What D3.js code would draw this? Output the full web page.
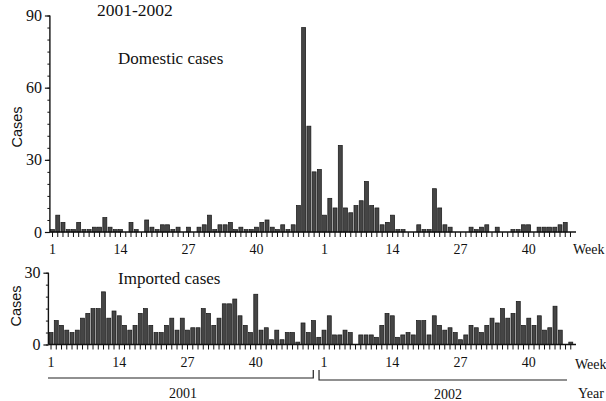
<!DOCTYPE html>
<html>
<head>
<meta charset="utf-8">
<script src="https://cdn.jsdelivr.net/npm/d3@7"></script>
<style>
  body { margin: 0; background: #fff; }
  text { font-family: "Liberation Serif", "Times New Roman", serif; fill: #111; }
</style>
</head>
<body>
<div id="chart-area"></div>
<script>
// weeks per year shown, and which week numbers get a label
var years = ["2001", "2002"];
var weekCount = [52, 48];
var labelWeeks = [1, 14, 27, 40];

// weekly case counts
var domestic2001 = [1, 7, 4, 1, 1, 4, 1, 1, 2, 2, 6, 2, 1, 1, 0, 4, 1, 0, 5, 2,
  1, 3, 3, 1, 2, 0, 2, 0, 2, 3, 7, 1, 3, 3, 4, 1, 2, 1, 1, 2,
  4, 5, 2, 1, 3, 1, 3, 11, 85, 44, 25, 26];
var domestic2002 = [7, 14, 10, 36, 10, 8, 11, 13, 21, 11, 10, 3, 4, 7, 1, 1, 0, 0, 3, 1,
  1, 18, 10, 3, 2, 0, 0, 0, 2, 1, 2, 3, 0, 2, 0, 0, 1, 1, 3, 3,
  0, 2, 2, 2, 2, 3, 4, 0];
var imported2001 = [5, 10, 8, 6, 5, 6, 11, 13, 15, 15, 22, 11, 14, 12, 8, 6, 8, 13, 15, 8,
  5, 5, 8, 11, 6, 11, 6, 7, 7, 15, 13, 8, 11, 17, 17, 19, 12, 8, 5, 21,
  6, 7, 2, 6, 2, 5, 5, 1, 9, 5, 10, 3];
var imported2002 = [6, 12, 4, 4, 6, 5, 0, 4, 4, 4, 3, 8, 13, 12, 3, 4, 5, 4, 10, 10,
  4, 12, 8, 6, 7, 5, 2, 4, 8, 7, 5, 8, 11, 9, 15, 11, 13, 18, 8, 11,
  8, 12, 6, 7, 16, 6, 0, 1];

var keys = [];
years.forEach(function (yr, i) {
  d3.range(1, weekCount[i] + 1).forEach(function (w) { keys.push(yr + "-" + w); });
});
function toRows(a, b) {
  return a.concat(b).map(function (v, i) { return { key: keys[i], value: v }; });
}
var domestic = toRows(domestic2001, domestic2002);
var imported = toRows(imported2001, imported2002);

var W = 606, H = 401;
var svg = d3.select("#chart-area").append("svg")
  .attr("width", W).attr("height", H);

function panel(opt) {
  var x = d3.scaleBand().domain(keys)
    .range(opt.xRange).paddingInner(0.24).paddingOuter(0.12);
  var y = d3.scaleLinear().domain([0, opt.max]).range(opt.yRange);
  var g = svg.append("g");

  g.selectAll("rect").data(opt.data).enter().append("rect")
    .attr("x", function (d) { return x(d.key); })
    .attr("width", x.bandwidth())
    .attr("y", function (d) { return y(d.value); })
    .attr("height", function (d) { return y(0) - y(d.value); })
    .attr("fill", "#454545")
    .attr("stroke", "#151515")
    .attr("stroke-width", 0.7);

  // x axis: a tick every week, labels for a few
  var xAxis = d3.axisBottom(x).tickSize(5).tickPadding(opt.xPad)
    .tickFormat(function (k) {
      var w = +k.split("-")[1];
      return labelWeeks.indexOf(w) >= 0 ? w : "";
    });
  var xg = g.append("g").attr("transform", "translate(0," + y(0) + ")").call(xAxis);
  xg.select(".domain").remove();
  xg.selectAll("line").attr("stroke", "#111").attr("stroke-width", 1);
  xg.selectAll("text").attr("font-family", "Liberation Serif").attr("font-size", 14).attr("fill", "#111");
  g.append("line")
    .attr("x1", opt.xRange[0]).attr("x2", 576)
    .attr("y1", y(0)).attr("y2", y(0))
    .attr("stroke", "#111").attr("stroke-width", 1.4);

  // y axis: major and minor ticks
  var yMinor = d3.axisLeft(y).tickValues(d3.range(0, opt.max + 1, 5)).tickSize(2.5).tickFormat("");
  var ym = g.append("g").attr("transform", "translate(" + opt.xRange[0] + ",0)").call(yMinor);
  ym.select(".domain").remove();
  ym.selectAll("line").attr("stroke", "#111");
  var yAxis = d3.axisLeft(y).tickValues(opt.majors).tickSize(5).tickPadding(3);
  var yg = g.append("g").attr("transform", "translate(" + opt.xRange[0] + ",0)").call(yAxis);
  yg.select(".domain").remove();
  yg.selectAll("line").attr("stroke", "#111").attr("stroke-width", 1.2);
  yg.selectAll("text").attr("font-family", "Liberation Serif").attr("font-size", 16).attr("fill", "#111");
  g.append("line")
    .attr("x1", opt.xRange[0]).attr("x2", opt.xRange[0])
    .attr("y1", y(0)).attr("y2", y(opt.max))
    .attr("stroke", "#111").attr("stroke-width", 1.4);

  g.append("text")
    .attr("transform", "translate(" + opt.casesX + "," + opt.casesY + ") rotate(-90)")
    .attr("text-anchor", "middle")
    .style("font-family", "Liberation Sans, Arial, sans-serif")
    .attr("font-size", 14.5)
    .text("Cases");

  g.append("text")
    .attr("x", 118).attr("y", opt.titleY)
    .attr("font-size", 17)
    .text(opt.title);

  g.append("text")
    .attr("x", opt.weekX).attr("y", opt.weekY)
    .attr("font-size", 14)
    .text("Week");
  return x;
}

panel({
  data: domestic, max: 90, majors: [0, 30, 60, 90],
  xRange: [49.9, 573.1], yRange: [232, 15.5], xPad: 7,
  casesX: 22, casesY: 127, title: "Domestic cases", titleY: 64,
  weekX: 573, weekY: 254
});

var xb = panel({
  data: imported, max: 30, majors: [0, 30],
  xRange: [48.4, 573.4], yRange: [344.5, 272.7], xPad: 8,
  casesX: 21, casesY: 306, title: "Imported cases", titleY: 284,
  weekX: 575, weekY: 369
});

svg.append("text")
  .attr("x", 97).attr("y", 16)
  .attr("font-size", 17.5)
  .text("2001-2002");

// year brackets under the lower chart
var half = xb.bandwidth() / 2;
var b1 = xb("2001-52") + half - 5.5;
var b2 = xb("2002-1") + half - 5;
svg.append("path")
  .attr("d", "M48,378H" + b1 + "V370")
  .attr("fill", "none").attr("stroke", "#222").attr("stroke-width", 1.2);
svg.append("path")
  .attr("d", "M" + b2 + ",370V380H567")
  .attr("fill", "none").attr("stroke", "#222").attr("stroke-width", 1.2);

svg.append("text").attr("x", 183).attr("y", 398).attr("text-anchor", "middle")
  .attr("font-size", 14).text(years[0]);
svg.append("text").attr("x", 448).attr("y", 399).attr("text-anchor", "middle")
  .attr("font-size", 14).text(years[1]);
svg.append("text").attr("x", 578).attr("y", 398)
  .attr("font-size", 14).text("Year");
</script>
</body>
</html>
